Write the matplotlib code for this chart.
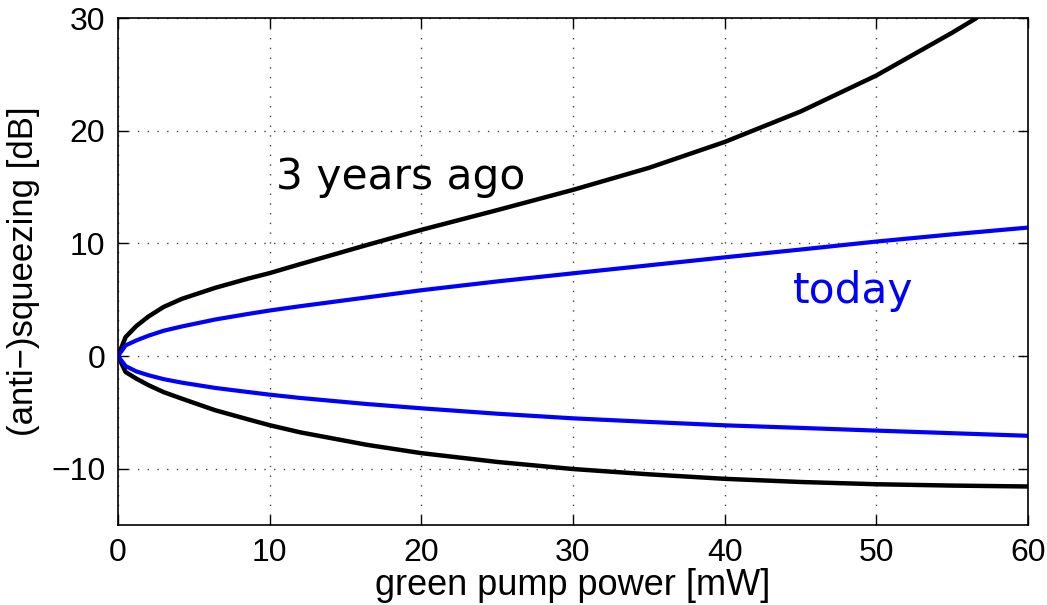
import matplotlib
matplotlib.use("Agg")
import matplotlib.pyplot as plt

# Green pump power [mW]
power = [0, 0.5, 1.2, 2, 3, 4.2, 6.4, 8.6, 10, 12, 16.4, 20, 25, 30, 35, 40, 45, 50, 55, 60]
power_anti_old = [0, 0.5, 1.2, 2, 3, 4.2, 6.4, 8.6, 10, 12, 16.4, 20, 25, 30, 35, 40, 45, 50, 55, 56.6]

# (Anti-)squeezing levels [dB], older setup
anti_old = [0, 1.68, 2.65, 3.5, 4.35, 5.07, 6.05, 6.88, 7.36, 8.15, 9.85, 11.2, 12.95,
            14.75, 16.7, 19.0, 21.7, 24.9, 28.7, 30.0]
sqz_old = [0, -1.42, -2.0, -2.58, -3.2, -3.78, -4.81, -5.63, -6.14, -6.77, -7.88, -8.62,
           -9.4, -10.03, -10.5, -10.9, -11.18, -11.38, -11.5, -11.58]

# (Anti-)squeezing levels [dB], current setup
anti_new = [0, 0.94, 1.38, 1.8, 2.24, 2.62, 3.24, 3.74, 4.04, 4.42, 5.2, 5.84, 6.62,
            7.34, 8.05, 8.76, 9.45, 10.16, 10.8, 11.4]
sqz_new = [0, -0.89, -1.36, -1.7, -2.05, -2.36, -2.83, -3.2, -3.43, -3.72, -4.26, -4.64,
           -5.12, -5.53, -5.85, -6.15, -6.38, -6.62, -6.85, -7.08]

xticks = [0, 10, 20, 30, 40, 50, 60]
yticks = [-10, 0, 10, 20, 30]

axis_font = "Liberation Sans"

fig = plt.figure(figsize=(10.47, 6.05), dpi=100)
ax = fig.add_axes([0.1127, 0.1322, 0.8692, 0.838])

line_kw = dict(solid_capstyle="round", solid_joinstyle="round")
ax.plot(power_anti_old, anti_old, color="black", lw=3.2, **line_kw)
ax.plot(power, sqz_old, color="black", lw=3.2, **line_kw)
ax.plot(power, anti_new, color="blue", lw=3.0, **line_kw)
ax.plot(power, sqz_new, color="blue", lw=3.0, **line_kw)

ax.set_xlim(0, 60)
ax.set_ylim(-15, 30)
ax.set_xticks(xticks)
ax.set_yticks(yticks)
ax.set_xticklabels([str(v) for v in xticks], fontfamily=axis_font, fontsize=23)
ax.set_yticklabels([str(v).replace("-", "\u2212") for v in yticks],
                   fontfamily=axis_font, fontsize=23)
ax.tick_params(direction="in", length=7, width=1, top=True, right=True, pad=9)
ax.grid(True, linestyle=(0, (1, 6)), color="#444444", linewidth=1)
for s in ax.spines.values():
    s.set_linewidth(1.2)

ax.set_xlabel("green pump power [mW]", fontfamily=axis_font, fontsize=26, labelpad=0)
ax.set_ylabel("(anti\u2212)squeezing [dB]", fontfamily=axis_font, fontsize=25, labelpad=8)

ax.text(10.4, 14.8, "3 years ago", fontfamily="DejaVu Sans", fontsize=30.5,
        color="black", va="baseline", ha="left")
ax.text(44.5, 4.75, "today", fontfamily="DejaVu Sans", fontsize=30.5,
        color="blue", va="baseline", ha="left")

fig.savefig("out.png", dpi=100)
